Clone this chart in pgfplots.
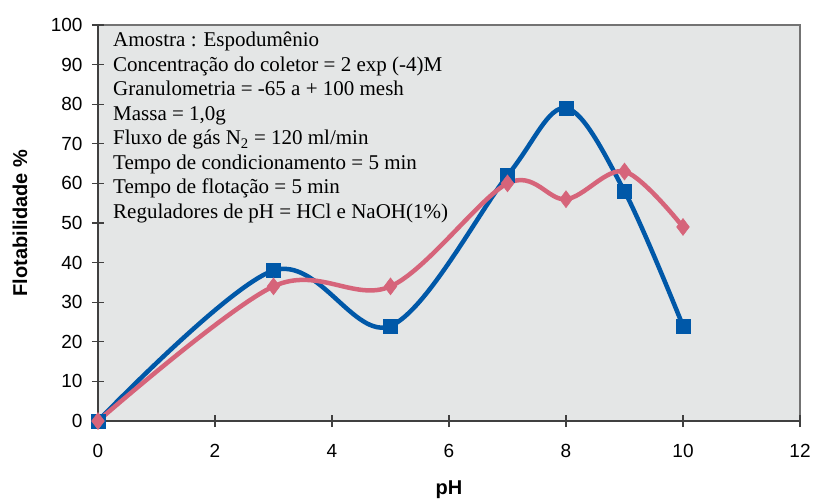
\documentclass[border=0pt]{standalone}
\usepackage{pgfplots}
\pgfplotsset{compat=1.18}
\usepackage{fontspec}
\setmainfont{Liberation Sans}
\newfontfamily\timesf{Liberation Serif}
\definecolor{bluel}{RGB}{0,88,168}
\definecolor{pinkl}{RGB}{214,100,122}
\definecolor{bgc}{RGB}{228,230,230}
\begin{document}
\begin{tikzpicture}
\path[use as bounding box] (-98pt,-77pt) rectangle (715pt,421pt);
\begin{axis}[
 at={(0,0)}, anchor=south west,
 scale only axis, width=702pt, height=396pt,
 xmin=0,xmax=12,ymin=0,ymax=100,
 xtick={0,2,...,12}, ytick={0,10,...,100},
 axis x line*=bottom, axis y line*=left,
 axis line style={-, line width=1.5pt, black!75},
 axis background/.style={fill=bgc, draw=black!55, line width=1.5pt},
 tick align=center, major tick length=12pt, tick style={line width=1.2pt, black!75},
 ticklabel style={font=\fontsize{19}{19}\selectfont},
 xticklabel style={yshift=-14pt},
 yticklabel style={xshift=-6pt},
 xlabel={pH}, ylabel={Flotabilidade \%},
 label style={font=\fontsize{20}{20}\selectfont\bfseries},
 xlabel style={at={(axis description cs:0.5,0)}, anchor=base, yshift=-73pt},
 ylabel style={at={(axis description cs:0,0.5)}, anchor=center, yshift=78pt},
 /pgf/number format/assume math mode=true,
 clip=false,
]
\addplot[bluel, line width=4.5pt, smooth, tension=0.55, mark=square*, mark size=7pt,
  mark options={fill=bluel, draw=bluel, line width=0.5pt}]
  coordinates {(0,0) (3,38) (5,24) (7,62) (8,79) (9,58) (10,24)};
\addplot[pinkl, line width=4.5pt, smooth, tension=0.55, mark=diamond*, mark size=8.5pt,
  mark options={fill=pinkl, draw=pinkl, line width=0.5pt}]
  coordinates {(0,0) (3,34) (5,34) (7,60) (8,56) (9,63) (10,49)};
\end{axis}
\begin{scope}[every node/.style={anchor=base west, inner sep=0pt, font=\timesf\fontsize{21}{21}\selectfont}]
\node at (15pt,374pt) {Amostra : Espodumênio};
\node at (15pt,349.5pt) {Concentração do coletor = 2 exp (-4)M};
\node at (15pt,325pt) {Granulometria = -65 a + 100 mesh};
\node at (15pt,300.5pt) {Massa = 1,0g};
\node at (15pt,276pt) {Fluxo de gás N\textsubscript{2} = 120 ml/min};
\node at (15pt,251.5pt) {Tempo de condicionamento = 5 min};
\node at (15pt,227pt) {Tempo de flotação = 5 min};
\node at (15pt,202.5pt) {Reguladores de pH = HCl e NaOH(1\%)};
\end{scope}
\end{tikzpicture}
\end{document}
